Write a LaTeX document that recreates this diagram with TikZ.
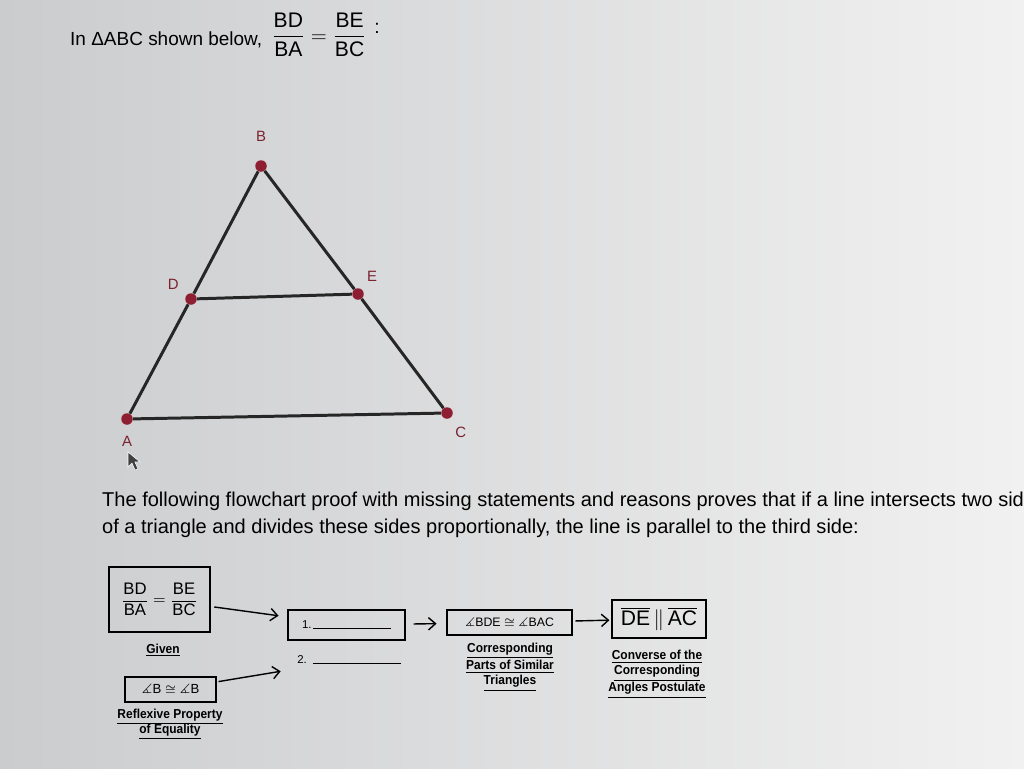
\documentclass[tikz,border=0pt]{standalone}
\usepackage{amsmath, amssymb}
\usepackage{fontspec}
\setmainfont{Liberation Sans}
\newfontfamily\narrowsans[FakeStretch=0.92]{Liberation Sans}
\usetikzlibrary{arrows.meta}

\definecolor{dotred}{HTML}{8E1F33}
\definecolor{lblred}{HTML}{7A2230}
\definecolor{bgleft}{HTML}{CBCCCE}
\definecolor{bgright}{HTML}{F1F1F1}

\begin{document}
\begin{tikzpicture}[x=0.02cm,y=-0.02cm,
    pt/.style={circle,fill=dotred,inner sep=0pt,minimum size=0.23cm},
    side/.style={line width=1.7pt,black!85},
    vlbl/.style={text=lblred,font=\fontsize{8.5}{10}\selectfont},
    box/.style={draw,line width=0.9pt,inner sep=0pt},
    flow/.style={-{Straight Barb[length=4pt,width=7pt]},line width=0.8pt},
    why/.style={font=\bfseries\narrowsans\fontsize{7.4}{8.7}\selectfont,align=center}]

    \useasboundingbox (0,0) rectangle (1024,768);
    \shade[left color=bgleft,right color=bgright] (0,0) rectangle (1024,768);

    % heading
    \node[anchor=base west,font=\fontsize{10.8}{12}\selectfont] (head) at (64,45) {In ΔABC shown below,};
    \node[font=\fontsize{12}{14}\selectfont] (ratio) at (319,35) {$\dfrac{\text{BD}}{\text{BA}}=\dfrac{\text{BE}}{\text{BC}}$};
    \node[font=\fontsize{11}{12}\selectfont] (colon) at (377,28) {:};

    % triangle
    \node[pt,label={[vlbl,label distance=0.25cm]above:B}]        (B) at (261,166) {};
    \node[pt,label={[vlbl,label distance=0.02cm]150:D}]           (D) at (191,299) {};
    \node[pt,label={[vlbl,label distance=0.02cm]65:E}]            (E) at (358,294) {};
    \node[pt,label={[vlbl,label distance=0.1cm]below:A}]          (A) at (127,419) {};
    \node[pt,label={[vlbl,label distance=0.05cm]-75:C}]           (C) at (447,413) {};

    \draw[side] (A) -- (D);
    \draw[side] (D) -- (B);
    \draw[side] (B) -- (E);
    \draw[side] (E) -- (C);
    \draw[side] (C) -- (A);
    \draw[side] (D) -- (E);

    % mouse pointer
    \draw[fill=black!75,draw=white!60,line width=0.3pt]
      (128,452) -- (128,467) -- (132,463) -- (135,470) -- (138,469) -- (135,462) -- (140,462) -- cycle;

    \node[anchor=north west,align=left,font=\fontsize{11.4}{15.3}\selectfont] (intro) at (96,486)
      {The following flowchart proof with missing statements and reasons proves that if a line intersects two sides\\
       of a triangle and divides these sides proportionally, the line is parallel to the third side:};

    % flowchart
    \node[box,minimum width=2.02cm,minimum height=1.3cm,font=\fontsize{9.5}{11}\selectfont] (given) at (159.5,599.5)
      {$\dfrac{\text{BD}}{\text{BA}}=\dfrac{\text{BE}}{\text{BC}}$};
    \node[why] (givenwhy) at (163,650) {\underline{Given}};

    \node[box,minimum width=1.82cm,minimum height=0.5cm,font=\fontsize{7.5}{8}\selectfont] (angB) at (170.5,689.5)
      {$\measuredangle$B $\cong$ $\measuredangle$B};
    \node[why] (angBwhy) at (170,724) {\underline{Reflexive Property}\\\underline{of Equality}};

    \node[box,minimum width=2.34cm,minimum height=0.6cm,font=\fontsize{6.5}{8}\selectfont] (step1) at (346.5,625)
      {1.\,\rule{1.55cm}{0.5pt}};
    \node[font=\fontsize{6.5}{8}\selectfont] (step2) at (349,660) {2.\ \ \rule{1.75cm}{0.5pt}};

    \node[box,minimum width=2.5cm,minimum height=0.5cm,font=\fontsize{7}{8}\selectfont] (simang) at (509.5,622.5)
      {$\measuredangle$BDE $\cong$ $\measuredangle$BAC};
    \node[why] (simwhy) at (510,667) {\underline{Corresponding}\\\underline{Parts of Similar}\\\underline{Triangles}};

    \node[box,minimum width=1.88cm,minimum height=0.76cm,font=\fontsize{12}{14}\selectfont] (par) at (659,619)
      {$\overline{\text{DE}}\,\|\,\overline{\text{AC}}$};
    \node[why] (parwhy) at (657,674) {\underline{Converse of the}\\\underline{Corresponding}\\\underline{Angles Postulate}};

    \draw (given) edge[flow,shorten <=2pt,shorten >=5pt] (step1);
    \draw (angB) edge[flow,shorten <=1pt,shorten >=6pt] (step2);
    \draw (step1) edge[flow,shorten <=4.5pt,shorten >=5.5pt] (simang);
    \draw (simang) edge[flow,shorten <=1.5pt,shorten >=1pt] (par);
\end{tikzpicture}
\end{document}
